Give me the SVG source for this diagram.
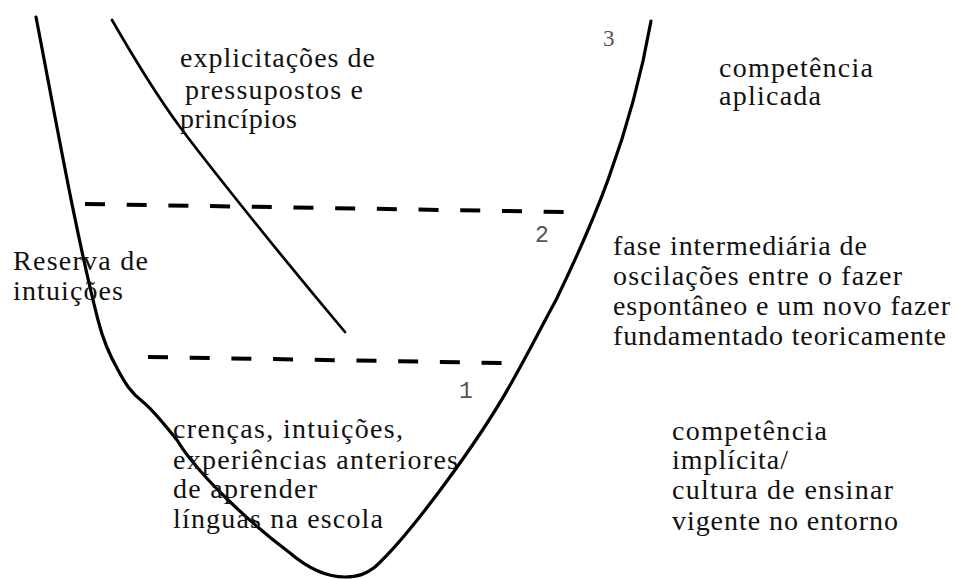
<svg xmlns="http://www.w3.org/2000/svg" width="957" height="579" viewBox="0 0 957 579">
<style>
.t{font-family:"Liberation Serif","Times New Roman",serif;font-size:28px;fill:#111}
.n{font-family:"Liberation Mono","Courier New",monospace;font-size:23px;fill:#555}
.n3{font-family:"Liberation Serif","Times New Roman",serif;font-size:23px;fill:#555}
.c{fill:none;stroke:#000;stroke-width:3.2;stroke-linecap:round;stroke-linejoin:round}
.ci{fill:none;stroke:#000;stroke-width:2.7;stroke-linecap:round}
.d{fill:none;stroke:#000;stroke-width:4;stroke-dasharray:20 21.7}
</style>
<rect width="957" height="579" fill="#fff"/>
<g id="connectors">
<path class="c" d="M36,17 C55,115 75,230 98,320 C103,340 110,356 118,370 C125,383 131,393 143,402 C153,410 165,425 177,440 C195,470 240,515 290,553 C310,570 328,577 345,577 C358,577 366,574 375,567 C410,535 480,440 513,380 C530,350 545,320 556,300 C590,230 630,140 651,21"/>
<path class="ci" d="M112,20 C135,60 160,100 180,127 C200,154 270,243 345,332"/>
<path class="d" d="M85,204 L566,212"/>
<path class="d" d="M148,357 L503,363"/>
</g>
<g id="n-top">
<text class="t" x="180" y="67" textLength="195">explicitações de</text>
<text class="t" x="185" y="99" textLength="178">pressupostos e</text>
<text class="t" x="180" y="128" textLength="117">princípios</text>
</g>
<g id="n-aplicada">
<text class="t" x="719" y="77" textLength="154">competência</text>
<text class="t" x="719" y="105" textLength="102">aplicada</text>
</g>
<g id="n-reserva">
<text class="t" x="13" y="270" textLength="135">Reserva de</text>
<text class="t" x="13" y="300" textLength="110">intuições</text>
</g>
<g id="n-fase">
<text class="t" x="613" y="255" textLength="254">fase intermediária de</text>
<text class="t" x="613" y="285" textLength="289">oscilações entre o fazer</text>
<text class="t" x="613" y="315" textLength="337">espontâneo e um novo fazer</text>
<text class="t" x="613" y="345" textLength="333">fundamentado teoricamente</text>
</g>
<g id="n-crencas">
<text class="t" x="173" y="438" textLength="230">crenças, intuições,</text>
<text class="t" x="173" y="469" textLength="285">experiências anteriores</text>
<text class="t" x="173" y="498" textLength="144">de aprender</text>
<text class="t" x="173" y="528" textLength="210">línguas na escola</text>
</g>
<g id="n-implicita">
<text class="t" x="672" y="440" textLength="155">competência</text>
<text class="t" x="672" y="469" textLength="116">implícita/</text>
<text class="t" x="672" y="499" textLength="221">cultura de ensinar</text>
<text class="t" x="672" y="530" textLength="226">vigente no entorno</text>
</g>
<g id="n-labels">
<text class="n3" x="603" y="46">3</text>
<text class="n" x="535" y="242">2</text>
<text class="n" x="459" y="398">1</text>
</g>
</svg>
